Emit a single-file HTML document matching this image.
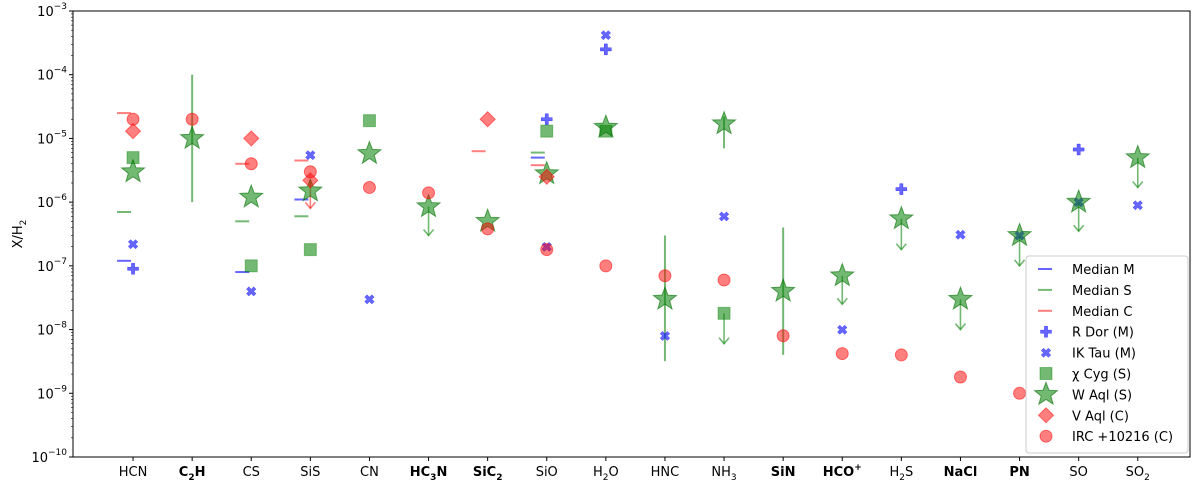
<!DOCTYPE html>
<html><head><meta charset="utf-8"><style>
html,body{margin:0;padding:0;background:#fff;}
svg{display:block;font-family:"DejaVu Sans","Liberation Sans",sans-serif;}
</style></head><body>
<svg id="chart" width="1200" height="484" viewBox="0 0 1200 484" xmlns="http://www.w3.org/2000/svg"></svg>
<script>
const categories=["HCN","C2H","CS","SiS","CN","HC3N","SiC2","SiO","H2O","HNC","NH3","SiN","HCO+","H2S","NaCl","PN","SO","SO2"];
const boldCats=["C2H","HC3N","SiC2","SiN","HCO+","NaCl","PN"];
const medianM=[["HCN",1.2e-7],["CS",8e-8],["SiS",1.1e-6],["SiO",5e-6]];
const medianS=[["HCN",7e-7],["CS",5e-7],["SiS",6e-7],["SiO",6e-6]];
const medianC=[["HCN",2.5e-5],["CS",4e-6],["SiS",4.5e-6],["SiC2",6.3e-6],["SiO",3.8e-6]];
const rDor=[["HCN",9e-8],["SiO",2e-5],["H2O",2.5e-4],["H2S",1.6e-6],["SO",6.7e-6]];
const ikTau=[["HCN",2.2e-7],["CS",4e-8],["SiS",5.5e-6],["CN",3e-8],["SiO",2e-7],["H2O",4.2e-4],["HNC",8e-9],["NH3",6e-7],["HCO+",1e-8],["NaCl",3.1e-7],["PN",3e-7],["SO",1e-6],["SO2",9e-7]];
const chiCyg=[["HCN",5e-6],["CS",1e-7],["SiS",1.8e-7],["CN",1.9e-5],["SiO",1.3e-5],["H2O",1.3e-5],["NH3",1.8e-8]];
const chiCygLimit=[["NH3",6e-9]];
const wAql=[["HCN",3e-6],["C2H",1e-5],["CS",1.2e-6],["SiS",1.5e-6],["CN",5.8e-6],["HC3N",8.5e-7],["SiC2",5e-7],["SiO",2.8e-6],["H2O",1.5e-5],["HNC",3e-8],["NH3",1.7e-5],["SiN",4e-8],["HCO+",7e-8],["H2S",5.5e-7],["NaCl",3e-8],["PN",3e-7],["SO",1e-6],["SO2",5e-6]];
const wAqlErr=[["C2H",1e-6,1e-4],["HNC",3.2e-9,3e-7],["NH3",7e-6,2.2e-5],["SiN",4e-9,4e-7]];
const wAqlLimit=[["HC3N",3e-7],["HCO+",2.5e-8],["H2S",1.8e-7],["NaCl",1e-8],["PN",1e-7],["SO",3.5e-7],["SO2",1.7e-6]];
const vAql=[["HCN",1.3e-5],["CS",1e-5],["SiS",2.2e-6],["SiC2",2e-5],["SiO",2.5e-6]];
const vAqlLimit=[["SiS",8e-7]];
const irc=[["HCN",2e-5],["C2H",2e-5],["CS",4e-6],["SiS",3e-6],["CN",1.7e-6],["HC3N",1.4e-6],["SiC2",3.8e-7],["SiO",1.8e-7],["H2O",1e-7],["HNC",7e-8],["NH3",6e-8],["SiN",8e-9],["HCO+",4.2e-9],["H2S",4e-9],["NaCl",1.8e-9],["PN",1e-9]];
const yTicks=[-10,-9,-8,-7,-6,-5,-4,-3];

const svg=document.getElementById('chart');
const NS="http://www.w3.org/2000/svg";
const L=73,R=1190,T=11,B=457;
function xs(c){const i=categories.indexOf(c);return L+(i+1.016)*(R-L)/18.9;}
function ys(v){return T+(-3-Math.log10(v))*(B-T)/7;}
function mk(tag,attrs,parent){const e=document.createElementNS(NS,tag);for(const k in attrs)e.setAttribute(k,attrs[k]);(parent||svg).appendChild(e);return e;}
const BLUE="rgba(0,0,255,0.6)",GREEN="rgba(0,128,0,0.55)",RED="rgba(255,0,0,0.5)";
let fr=mk('rect',{x:L,y:T,width:R-L,height:B-T,fill:'none',stroke:'#000','stroke-width':1});


yTicks.forEach(p=>{const y=ys(Math.pow(10,p));
 mk('line',{x1:L-4,x2:L,y1:y,y2:y,stroke:'#000'});
 const t=mk('text',{x:L-6,y:y+5,'text-anchor':'end','font-size':13});
 
 
 t.innerHTML='10<tspan dy="-7" font-size="9">\u2212'+(-p)+'</tspan>';
 if(p<-3)for(let m=2;m<10;m++){const yy=ys(m*Math.pow(10,p));mk('line',{x1:L-2,x2:L,y1:yy,y2:yy,stroke:'#000','stroke-width':0.6});}
});
const yl=mk('text',{x:0,y:0,transform:'translate(22,234) rotate(-90)','text-anchor':'middle','font-size':13});


yl.innerHTML='X/H<tspan dy="4" font-size="9">2</tspan>';
const fmt={"C2H":'C<tspan dy="4" font-size="9">2</tspan><tspan dy="-4">H</tspan>',"HC3N":'HC<tspan dy="4" font-size="9">3</tspan><tspan dy="-4">N</tspan>',"SiC2":'SiC<tspan dy="4" font-size="9">2</tspan>',"H2O":'H<tspan dy="4" font-size="9">2</tspan><tspan dy="-4">O</tspan>',"NH3":'NH<tspan dy="4" font-size="9">3</tspan>',"HCO+":'HCO<tspan dy="-6" font-size="9">+</tspan>',"H2S":'H<tspan dy="4" font-size="9">2</tspan><tspan dy="-4">S</tspan>',"SO2":'SO<tspan dy="4" font-size="9">2</tspan>'};
categories.forEach(c=>{const x=xs(c);mk('line',{x1:x,x2:x,y1:B,y2:B+4,stroke:'#000'});
 const t=mk('text',{x:x,y:B+19,'text-anchor':'middle','font-size':13,'font-weight':boldCats.includes(c)?'bold':'normal'});
 
 
 t.innerHTML=fmt[c]||c;});
function star(cx,cy,r){let p=[];for(let i=0;i<10;i++){const a=-Math.PI/2+i*Math.PI/5,rr=i%2?r*0.42:r;p.push((cx+rr*Math.cos(a)).toFixed(1)+','+(cy+rr*Math.sin(a)).toFixed(1));}return p.join(' ');}
function marker(type,x,y,g){
 if(type==='plus')return mk('path',{d:`M${x-1.6},${y-5.5}h3.2v3.9h3.9v3.2h-3.9v3.9h-3.2v-3.9h-3.9v-3.2h3.9z`,fill:BLUE,stroke:BLUE,'stroke-width':0.5},g);
 if(type==='x')return mk('path',{d:`M${x},${y-2}l2.4-2.4l2.4,2.4l-2.4,2l2.4,2.4l-2.4,2.4l-2.4-2.4l-2.4,2.4l-2.4-2.4l2.4-2.4l-2.4-2l2.4-2.4z`,fill:BLUE,stroke:BLUE,'stroke-width':0.5},g);
 if(type==='square')return mk('rect',{x:x-6,y:y-6,width:12,height:12,fill:GREEN,stroke:'rgba(0,128,0,0.4)'},g);
 if(type==='star')return mk('polygon',{points:star(x,y,12),fill:GREEN,stroke:'rgba(0,110,0,0.6)','stroke-width':1},g);
 if(type==='diamond')return mk('path',{d:`M${x},${y-7.5}l7.5,7.5l-7.5,7.5l-7.5-7.5z`,fill:RED,stroke:RED},g);
 if(type==='circle')return mk('circle',{cx:x,cy:y,r:6,fill:RED,stroke:RED},g);
 if(type.startsWith('med'))return mk('line',{x1:x-16,x2:x-2,y1:y,y2:y,stroke:type==='medM'?BLUE:type==='medS'?GREEN:RED,'stroke-width':2},g);
}
function series(name,data,type){const g=mk('g',{});
 data.forEach(d=>{const m=marker(type,xs(d[0]),ys(d[1]),g);});}
function limits(name,data,vals,color){const g=mk('g',{});
 data.forEach(d=>{const v=vals.find(e=>e[0]===d[0]);if(!v)return;const x=xs(d[0]),y1=ys(v[1]),y2=ys(d[1]);
  mk('line',{x1:x,x2:x,y1:y1,y2:y2,stroke:color,'stroke-width':1.6},g);
  mk('path',{d:`M${x-5},${y2-6}L${x},${y2}L${x+5},${y2-6}`,fill:'none',stroke:color,'stroke-width':1.6},g);});}
series('median-m',medianM,'medM');series('median-s',medianS,'medS');series('median-c',medianC,'medC');
const eg=mk('g',{});
wAqlErr.forEach(d=>{const x=xs(d[0]);mk('line',{x1:x,x2:x,y1:ys(d[1]),y2:ys(d[2]),stroke:GREEN,'stroke-width':2},eg);});
limits('w-aql-upper-limits',wAqlLimit,wAql,GREEN);
limits('v-aql-upper-limits',vAqlLimit,vAql,RED);
limits('chi-cyg-upper-limits',chiCygLimit,chiCyg,GREEN);
series('r-dor',rDor,'plus');series('ik-tau',ikTau,'x');series('chi-cyg',chiCyg,'square');series('w-aql',wAql,'star');series('v-aql',vAql,'diamond');series('irc-10216',irc,'circle');
const lg=mk('g',{});
mk('rect',{x:1026,y:256,width:162,height:197,rx:3,fill:'rgba(255,255,255,0.85)',stroke:'#ccc'},lg);
const items=[['Median M','medM'],['Median S','medS'],['Median C','medC'],['R Dor (M)','plus'],['IK Tau (M)','x'],['\u03C7 Cyg (S)','square'],['W Aql (S)','star'],['V Aql (C)','diamond'],['IRC +10216 (C)','circle']];
items.forEach((it,i)=>{const y=269+i*20.9;const e=mk('g',{},lg);
 if(it[1].startsWith('med'))marker(it[1],1054,y,e);else marker(it[1],1046,y,e);
 const t=mk('text',{x:1072,y:y+5,'font-size':13},e);t.textContent=it[0];});
</script>
</body></html>
